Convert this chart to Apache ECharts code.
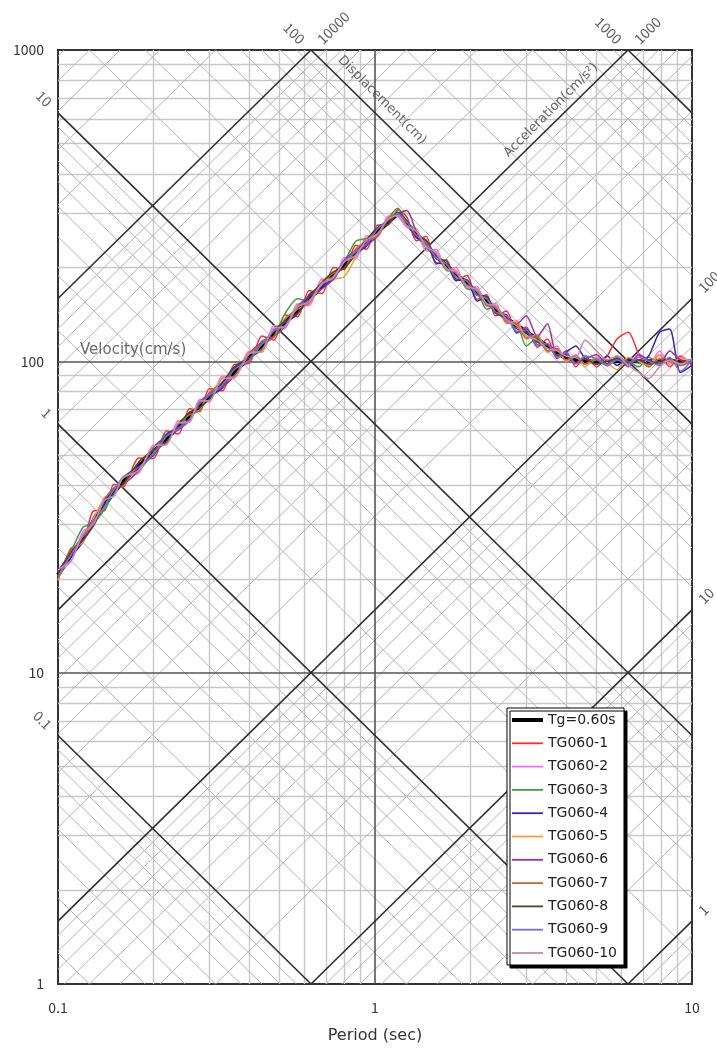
<!DOCTYPE html>
<html>
<head>
<meta charset="utf-8">
<script src="https://cdn.jsdelivr.net/npm/echarts@6/dist/echarts.min.js"></script>
<style>
  html, body { margin: 0; padding: 0; background: #fff; }
  #chart { width: 717px; height: 1049px; }
</style>
</head>
<body>
<div id="chart"></div>
<script>
// ---- Axis ranges and tick values ----
const X_MIN = 0.1, X_MAX = 10;      // period (sec)
const Y_MIN = 1, Y_MAX = 1000;      // pseudo velocity (cm/s)
const X_DECADES = [0.1, 1];
const Y_DECADES = [1, 10, 100];
const MINOR_MULTS = [2, 3, 4, 5, 6, 7, 8, 9];
const DIAG_MULTS = [1, 2, 3, 4, 5, 6, 7, 8, 9];
const DISP_DECADES = [0.01, 0.1, 1, 10, 100, 1000];   // displacement (cm)
const ACC_DECADES = [0.1, 1, 10, 100, 1000, 10000];   // acceleration (cm/s2)
const DISP_LABELS = [0.1, 1, 10, 100, 1000];
const ACC_LABELS = [1, 10, 100, 1000, 10000];

// ---- Target pseudo-velocity spectrum, Tg = 0.60 s ----
const TARGET_T  = [0.10, 0.12, 0.14, 0.16, 0.20, 0.30, 0.50, 0.70, 1.00, 1.18, 1.57, 2.00, 2.53, 3.24, 3.90, 4.40, 10.0];
const TARGET_SV = [20.6, 27.1, 34.8, 41.0, 51.3, 77.0, 128, 179, 256, 298, 216, 174, 140, 118, 104, 100, 100];

// ---- Periods shared by the simulated-wave spectra ----
const PERIODS = [
  0.10, 0.11, 0.12, 0.13, 0.14, 0.15, 0.16, 0.18, 0.20, 0.22,
  0.24, 0.26, 0.28, 0.30, 0.33, 0.36, 0.40, 0.44, 0.48, 0.52,
  0.57, 0.62, 0.68, 0.74, 0.80, 0.87, 0.94, 1.02, 1.10, 1.18,
  1.26, 1.35, 1.45, 1.56, 1.68, 1.80, 1.95, 2.10, 2.25, 2.40,
  2.60, 2.80, 3.00, 3.25, 3.50, 3.75, 4.00, 4.30, 4.60, 5.00,
  5.40, 5.80, 6.30, 6.80, 7.30, 7.90, 8.50, 9.20, 10.0
];

const TG060_1 = [
  19.8, 25.1, 26.3, 33.1, 33.1, 40.3, 39.4, 48.9, 48.7, 59.8,
  58.4, 70.6, 68.9, 81.6, 80.4, 97.8, 98.4, 120.6, 116.9, 141,
  139, 169, 165, 200, 197, 236, 229, 274, 274, 307,
  291, 244, 252, 205, 212, 181, 189, 158, 164, 140,
  145, 123, 129, 111, 118, 102, 108, 96, 104, 96,
  104, 118, 124, 105, 96, 105, 96, 104, 97
];
const TG060_2 = [
  21.2, 22.8, 28.5, 29.7, 36.5, 36.9, 42.6, 43.8, 53.9, 54.1,
  64.6, 63.9, 75.4, 73.9, 89.7, 88.6, 107.6, 107.1, 130.4, 127.7,
  153, 151, 184, 182, 215, 214, 253, 251, 293, 292,
  269, 267, 226, 229, 196, 200, 171, 174, 150, 154,
  132, 135, 118, 122, 107, 112, 100, 105, 98, 103,
  97, 104, 98, 106, 97, 108, 98, 103, 99
];
const TG060_3 = [
  21.0, 24.6, 29.3, 30.3, 33.4, 37.6, 42.2, 44.7, 50.8, 58.7,
  60.3, 68.6, 69.6, 79.3, 82.1, 95.1, 100.5, 116.1, 120.5, 142.3,
  159, 156, 177, 188, 209, 243, 248, 258, 288, 310,
  280, 262, 231, 220, 196, 194, 171, 168, 147, 151,
  133, 132, 112, 119, 108, 109, 101, 103, 98, 101,
  97, 102, 100, 96, 103, 99, 101, 97, 100
];
const TG060_4 = [
  21.2, 23.7, 26.3, 31.8, 34.8, 37.2, 42.2, 46.1, 49.8, 58.1,
  61.5, 64.6, 74.0, 77.0, 82.1, 95.1, 102.5, 109.3, 126.7, 133,
  142, 164, 174, 184, 211, 223, 234, 269, 282, 295,
  283, 249, 245, 207, 206, 182, 182, 156, 161, 143,
  141, 124, 127, 113, 113, 104, 107, 112, 102, 98,
  104, 97, 102, 99, 104, 124, 127, 92, 97
];
const TG060_5 = [
  19.8, 24.4, 26.3, 31.5, 36.2, 36.9, 42.2, 44.3, 53.4, 54.7,
  63.3, 63.9, 74.7, 74.7, 88.8, 88.6, 106.6, 107.1, 127.9, 129.0,
  152, 153, 181, 184, 187, 216, 248, 253, 290, 295,
  271, 265, 233, 225, 198, 196, 174, 171, 151, 151,
  133, 134, 118, 122, 107, 110, 100, 104, 96, 103,
  99, 94, 103, 100, 97, 105, 99, 102, 100
];
const TG060_6 = [
  21.2, 24.2, 26.6, 30.0, 35.8, 39.2, 40.2, 44.7, 52.8, 57.5,
  60.3, 64.6, 74.0, 78.5, 82.9, 89.5, 105.6, 115.0, 120.5, 129.0,
  150, 162, 171, 184, 211, 227, 236, 253, 285, 298,
  305, 262, 241, 220, 199, 192, 176, 170, 152, 149,
  135, 132, 140, 120, 132, 104, 106, 99, 102, 105,
  98, 103, 96, 105, 101, 98, 108, 101, 99
];
const TG060_7 = [
  20.0, 24.4, 27.4, 30.0, 35.8, 38.8, 39.8, 47.5, 51.8, 54.7,
  63.3, 67.3, 69.6, 79.3, 85.4, 89.5, 105.6, 113.8, 119.3, 137.0,
  147, 154, 179, 192, 199, 230, 243, 253, 288, 301,
  273, 261, 235, 222, 199, 193, 175, 169, 153, 149,
  134, 132, 119, 120, 108, 110, 101, 104, 98, 102,
  97, 104, 99, 101, 96, 102, 100, 97, 101
];
const TG060_8 = [
  20.8, 24.4, 26.8, 30.0, 35.5, 38.4, 40.2, 47.5, 51.8, 55.3,
  62.7, 68.6, 71.1, 75.5, 85.4, 96.0, 102.5, 109.3, 125.5, 134.3,
  143, 161, 179, 194, 199, 221, 246, 269, 276, 301,
  283, 252, 245, 214, 210, 184, 183, 163, 162, 143,
  138, 127, 124, 115, 113, 105, 105, 99, 102, 98,
  100, 102, 99, 101, 98, 100, 102, 99, 101
];
const TG060_9 = [
  20.4, 23.9, 27.6, 30.9, 34.1, 38.8, 42.2, 45.6, 50.3, 57.5,
  60.9, 65.3, 73.2, 77.8, 83.8, 94.1, 100.5, 113.8, 125.5, 130.3,
  149, 157, 176, 186, 209, 225, 239, 266, 285, 298,
  280, 254, 240, 215, 205, 187, 181, 163, 159, 144,
  140, 125, 126, 113, 114, 103, 107, 98, 104, 102,
  97, 101, 98, 103, 100, 97, 103, 93, 101
];
const TG060_10 = [
  21.4, 23.0, 27.9, 30.3, 35.8, 36.9, 42.2, 44.7, 53.4, 54.1,
  63.3, 63.9, 74.7, 74.7, 88.0, 88.6, 105.6, 108.2, 127.9, 129.0,
  150, 155, 178, 186, 209, 219, 245, 257, 286, 294,
  272, 262, 234, 223, 198, 194, 174, 170, 153, 151,
  136, 130, 121, 117, 110, 108, 104, 103, 117, 108,
  101, 104, 97, 92, 88, 96, 101, 98, 102
];

const TARGET_NAME = 'Tg=0.60s';
const SIM_NAMES = ['TG060-1', 'TG060-2', 'TG060-3', 'TG060-4', 'TG060-5',
                   'TG060-6', 'TG060-7', 'TG060-8', 'TG060-9', 'TG060-10'];
const SIM_VALUES = [TG060_1, TG060_2, TG060_3, TG060_4, TG060_5,
                    TG060_6, TG060_7, TG060_8, TG060_9, TG060_10];
const SIM_COLORS = ['#ff2a2a', '#ff66ff', '#3f9f3f', '#2b2bc0', '#ff9a3c',
                    '#993399', '#cc6633', '#4a4a1c', '#6f6fe6', '#c98aaa'];

const FONT = '"Noto Sans CJK JP", "Noto Sans", sans-serif';
const WIDE_FONT = '"DejaVu Sans", "Noto Sans", sans-serif';
const TWO_PI = 2 * Math.PI;

// Legend swatches: flat bars, kept at their own aspect inside the item box
const THICK_BAR = 'path://M0,0H31V4H0Z';
const THIN_BAR = 'path://M0,0H31V1.8H0Z';

// ---- Grid-line geometry (data space) ----
const log10 = Math.log10;

// Clip the straight log-log line  log10(SV) = c + s*log10(T)  to the axis box
function diagSegment(c, s) {
  const u0 = log10(X_MIN), u1 = log10(X_MAX), v0 = log10(Y_MIN), v1 = log10(Y_MAX);
  const a = (v0 - c) / s, b = (v1 - c) / s;
  const lo = Math.max(u0, Math.min(a, b));
  const hi = Math.min(u1, Math.max(a, b));
  if (hi - lo < 1e-9) return null;
  return [[Math.pow(10, lo), Math.pow(10, c + s * lo)],
          [Math.pow(10, hi), Math.pow(10, c + s * hi)]];
}
const dispLine = d => diagSegment(log10(TWO_PI * d), -1);   // SV = 2*pi*D/T
const accLine  = a => diagSegment(log10(a / TWO_PI), 1);    // SV = A*T/(2*pi)

const minorRect = [], majorRect = [], minorDiag = [], majorDiag = [];
X_DECADES.forEach(d => MINOR_MULTS.forEach(m => {
  minorRect.push({ coords: [[d * m, Y_MIN], [d * m, Y_MAX]] });
}));
Y_DECADES.forEach(d => MINOR_MULTS.forEach(m => {
  minorRect.push({ coords: [[X_MIN, d * m], [X_MAX, d * m]] });
}));
X_DECADES.slice(1).forEach(d => majorRect.push({ coords: [[d, Y_MIN], [d, Y_MAX]] }));
Y_DECADES.slice(1).forEach(d => majorRect.push({ coords: [[X_MIN, d], [X_MAX, d]] }));

DISP_DECADES.forEach(d => DIAG_MULTS.forEach(m => {
  const seg = dispLine(d * m);
  if (seg) (m === 1 ? majorDiag : minorDiag).push({ coords: seg });
}));
ACC_DECADES.forEach(d => DIAG_MULTS.forEach(m => {
  const seg = accLine(d * m);
  if (seg) (m === 1 ? majorDiag : minorDiag).push({ coords: seg });
}));

// Value labels sit at the upper end of each decade diagonal
const fmtNum = v => String(+v.toPrecision(6));
const dispLabelData = DISP_LABELS.map(d => {
  const seg = dispLine(d);
  return seg ? { value: seg[0], label: { formatter: fmtNum(d) } } : null;
}).filter(Boolean);
const accLabelData = ACC_LABELS.map(a => {
  const seg = accLine(a);
  return seg ? { value: seg[1], label: { formatter: fmtNum(a) } } : null;
}).filter(Boolean);

function gridLines(name, data, color, width, z) {
  return {
    name, type: 'lines', coordinateSystem: 'cartesian2d', polyline: false,
    silent: true, z, data, animation: false,
    lineStyle: { color, width, opacity: 1, type: 'solid' }
  };
}

function textPoints(name, data, label) {
  return {
    name, type: 'scatter', silent: true, z: 6, animation: false,
    symbolSize: 1, itemStyle: { color: 'rgba(0,0,0,0)' },
    data,
    label: Object.assign({
      show: true, position: 'inside', color: '#333',
      fontFamily: FONT, fontSize: 14
    }, label)
  };
}

const series = [
  gridLines('minorRect', minorRect, '#c8c8c8', 1.4, 1),
  gridLines('minorDiag', minorDiag, '#b4b4b4', 1, 1),
  gridLines('majorRect', majorRect, '#555', 1.6, 2),
  gridLines('majorDiag', majorDiag, '#2e2e2e', 1.6, 2),
  textPoints('dispValues', dispLabelData,
    { rotate: -45, align: 'right', verticalAlign: 'middle', offset: [-12, 0] }),
  textPoints('accValues', accLabelData,
    { rotate: 45, align: 'left', verticalAlign: 'middle', offset: [12, 0] }),
  textPoints('dispTitle', [{ value: [0.98, TWO_PI * 100 / 0.98] }],
    { rotate: -45, align: 'center', verticalAlign: 'middle', offset: [0, -14],
      fontSize: 13, fontFamily: WIDE_FONT, color: '#444', formatter: 'Displacement(cm)' }),
  textPoints('accTitle', [{ value: [3.8, 1000 * 3.8 / TWO_PI] }],
    { rotate: 45, align: 'center', verticalAlign: 'middle', offset: [0, -11],
      fontSize: 13, fontFamily: WIDE_FONT, color: '#444', formatter: 'Acceleration(cm/s²)' }),
  textPoints('velTitle', [{ value: [X_MIN, 100] }],
    { align: 'left', verticalAlign: 'middle', offset: [22, -11],
      fontSize: 15, fontFamily: WIDE_FONT, color: '#444', formatter: 'Velocity(cm/s)' }),
  {
    name: TARGET_NAME, type: 'line', z: 3, symbol: 'none', animation: false,
    data: TARGET_T.map((t, i) => [t, TARGET_SV[i]]),
    lineStyle: { color: '#000', width: 4 }, itemStyle: { color: '#000' }
  }
];
SIM_NAMES.forEach((name, k) => {
  series.push({
    name, type: 'line', z: 4, symbol: 'none', smooth: 0.25, animation: false,
    data: PERIODS.map((t, i) => [t, SIM_VALUES[k][i]]),
    lineStyle: { color: SIM_COLORS[k], width: 1.5 },
    itemStyle: { color: SIM_COLORS[k] }
  });
});

const legendData = [{ name: TARGET_NAME, icon: THICK_BAR }]
  .concat(SIM_NAMES.map(name => ({ name, icon: THIN_BAR })));

const chart = echarts.init(document.getElementById('chart'), null, { renderer: 'canvas' });
chart.setOption({
  animation: false,
  backgroundColor: '#fff',
  textStyle: { fontFamily: FONT },
  grid: {
    left: 58, right: 25, top: 50, bottom: 52,
    show: true, borderColor: '#333', borderWidth: 2, backgroundColor: 'transparent'
  },
  xAxis: {
    type: 'log', logBase: 10, min: X_MIN, max: X_MAX,
    name: 'Period (sec)', nameLocation: 'middle', nameGap: 44,
    nameTextStyle: { fontSize: 16, color: '#333', fontFamily: WIDE_FONT },
    axisLine: { show: false }, axisTick: { show: false },
    splitLine: { show: false }, minorSplitLine: { show: false },
    axisLabel: { fontSize: 14, color: '#333', margin: 17, fontFamily: FONT,
                 formatter: v => fmtNum(v) }
  },
  yAxis: {
    type: 'log', logBase: 10, min: Y_MIN, max: Y_MAX,
    axisLine: { show: false }, axisTick: { show: false },
    splitLine: { show: false },
    axisLabel: { fontSize: 14, color: '#333', margin: 14, fontFamily: FONT,
                 formatter: v => fmtNum(v) }
  },
  legend: {
    data: legendData,
    orient: 'vertical', left: 507, top: 708,
    padding: [5, 7, 5, 5], itemWidth: 31, itemHeight: 14, itemGap: 9.3,
    symbolKeepAspect: true,
    backgroundColor: '#fff', borderColor: '#000', borderWidth: 1,
    shadowColor: '#000', shadowBlur: 0, shadowOffsetX: 3, shadowOffsetY: 3,
    textStyle: { fontSize: 14, color: '#222', fontFamily: WIDE_FONT },
    selectedMode: false
  },
  series
});
</script>
</body>
</html>
